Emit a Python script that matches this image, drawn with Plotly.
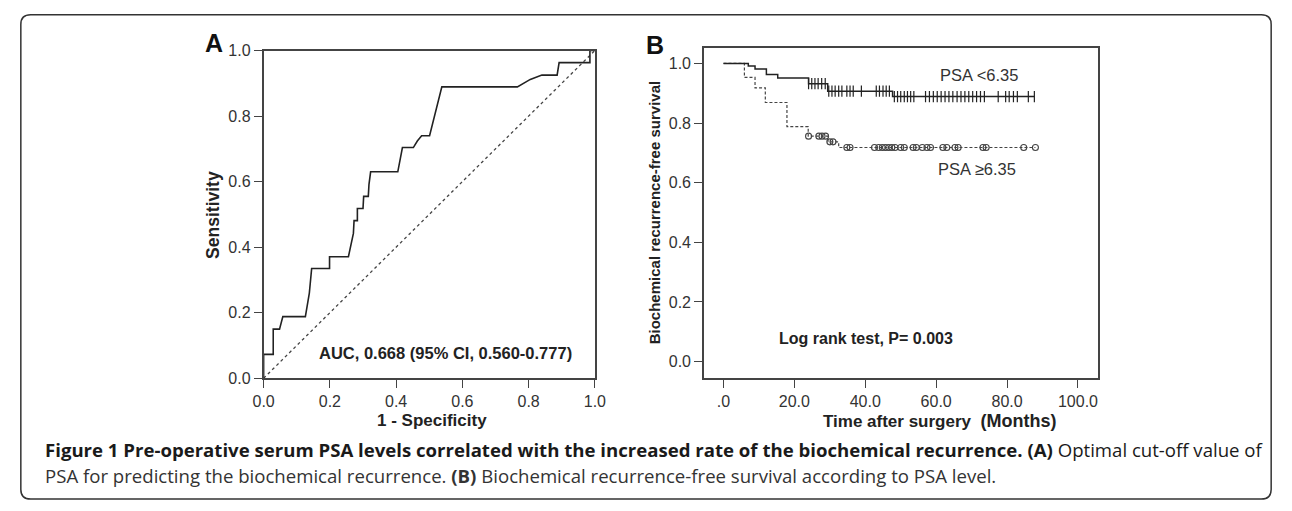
import plotly.graph_objects as go

W, H = 1292, 511

# ---------------- Panel A: ROC curve ----------------
roc_fpr = [0, 0, 0.029, 0.029, 0.048, 0.058, 0.126, 0.138, 0.145, 0.199, 0.199,
           0.256, 0.271, 0.273, 0.283, 0.283, 0.300, 0.302, 0.316, 0.318, 0.323,
           0.405, 0.419, 0.452, 0.464, 0.477, 0.501, 0.538, 0.766, 0.805, 0.840,
           0.886, 0.892, 0.985, 0.985, 1.0]
roc_tpr = [0, 0.073, 0.073, 0.150, 0.150, 0.188, 0.188, 0.260, 0.335, 0.335, 0.371,
           0.371, 0.442, 0.481, 0.481, 0.518, 0.518, 0.555, 0.555, 0.591, 0.630,
           0.630, 0.704, 0.704, 0.724, 0.740, 0.740, 0.889, 0.889, 0.912, 0.925,
           0.925, 0.963, 0.963, 1.0, 1.0]
ref_line = [0, 1]
roc_ticks = [0.0, 0.2, 0.4, 0.6, 0.8, 1.0]
roc_ticklabels = ["0.0", "0.2", "0.4", "0.6", "0.8", "1.0"]

# ---------------- Panel B: Kaplan-Meier ----------------
km_low_t = [0, 7.0, 8.9, 12.1, 15.3, 24.0, 29.4, 47.7, 87.7]
km_low_s = [1.0, 0.991, 0.981, 0.963, 0.951, 0.932, 0.907, 0.889, 0.889]
km_low_cens = [24.0, 24.9, 25.8, 26.7, 27.7, 28.7,
               29.7, 30.6, 31.5, 32.5, 33.4, 34.8, 35.7, 36.6, 38.9, 43.1, 44.0, 45.0, 45.9, 46.8,
               48.2, 49.1, 50.0, 51.0, 51.9, 52.8, 53.7, 57.0, 58.1, 59.2, 60.3, 61.4, 62.5, 63.6,
               64.7, 65.9, 67.0, 68.1, 69.2, 70.3, 71.4, 72.5, 73.6, 77.5, 79.6, 80.6, 81.8, 82.9,
               86.0, 87.7]

km_high_t = [0, 5.9, 8.9, 11.8, 17.9, 23.9, 29.5, 32.5, 88.0]
km_high_s = [1.0, 0.953, 0.918, 0.869, 0.788, 0.756, 0.737, 0.718, 0.718]
km_high_cens = [24.0, 26.9, 27.8, 28.8, 30.0, 30.9, 34.8, 35.7, 42.6, 43.8, 44.8, 45.7, 46.6,
                47.5, 48.4, 50.0, 51.0, 53.5, 54.4, 56.1, 57.4, 58.4, 61.9, 63.0, 65.3, 66.2,
                73.2, 74.1, 84.7, 88.0]

km_xticks = [0, 20, 40, 60, 80, 100]
km_xticklabels = [".0", "20.0", "40.0", "60.0", "80.0", "100.0"]
km_yticks = [0.0, 0.2, 0.4, 0.6, 0.8, 1.0]
km_yticklabels = ["0.0", "0.2", "0.4", "0.6", "0.8", "1.0"]


def surv_at(ts, ss, t):
    val = ss[0]
    for ti, si in zip(ts, ss):
        if ti <= t + 1e-9:
            val = si
    return val


def px(x):
    return x / W


def py(y):
    return 1 - y / H


INK = "#222222"
AX = "#444444"
FONT = "Liberation Sans, Arial, sans-serif"

fig = go.Figure()

# ROC
fig.add_trace(go.Scatter(x=ref_line, y=ref_line, mode="lines",
                         line=dict(color=AX, width=1.3, dash="dot"),
                         xaxis="x", yaxis="y", showlegend=False, hoverinfo="skip"))
fig.add_trace(go.Scatter(x=roc_fpr, y=roc_tpr, mode="lines",
                         line=dict(color=INK, width=1.6),
                         xaxis="x", yaxis="y", showlegend=False))

# KM
fig.add_trace(go.Scatter(x=km_high_t, y=km_high_s, mode="lines", line_shape="hv",
                         line=dict(color=AX, width=1.2, dash="3px,2px"),
                         xaxis="x2", yaxis="y2", showlegend=False))
fig.add_trace(go.Scatter(x=km_low_t, y=km_low_s, mode="lines", line_shape="hv",
                         line=dict(color=INK, width=1.5),
                         xaxis="x2", yaxis="y2", showlegend=False))
fig.add_trace(go.Scatter(x=km_low_cens, y=[surv_at(km_low_t, km_low_s, t) for t in km_low_cens],
                         mode="markers",
                         marker=dict(symbol="line-ns-open", size=8, color=INK,
                                     line=dict(color=INK, width=1.2)),
                         xaxis="x2", yaxis="y2", showlegend=False))
fig.add_trace(go.Scatter(x=km_high_cens, y=[surv_at(km_high_t, km_high_s, t) for t in km_high_cens],
                         mode="markers",
                         marker=dict(symbol="circle-open", size=6, color=AX,
                                     line=dict(color=AX, width=1.1)),
                         xaxis="x2", yaxis="y2", showlegend=False))

tickfont = dict(family=FONT, size=16, color="#333333")
axis_common = dict(showgrid=False, zeroline=False, showline=True, linecolor=AX, linewidth=1.6,
                   ticks="outside", ticklen=8, tickwidth=1.4, tickcolor=AX, tickfont=tickfont,
                   mirror=True, fixedrange=True)

fig.update_layout(
    width=W, height=H, margin=dict(l=0, r=0, t=0, b=0),
    paper_bgcolor="white", plot_bgcolor="white",
    xaxis=dict(domain=[px(257), px(594)], range=[0, 1], tickvals=roc_ticks,
               ticktext=roc_ticklabels, anchor="y", **axis_common),
    yaxis=dict(domain=[py(383), py(44)], range=[0, 1], tickvals=roc_ticks,
               ticktext=roc_ticklabels, anchor="x", **axis_common),
    xaxis2=dict(domain=[px(705), px(1106)], range=[-5.5, 105.7], tickvals=km_xticks,
                ticktext=km_xticklabels, anchor="y2", **axis_common),
    yaxis2=dict(domain=[py(382.5), py(41)], range=[-0.0545, 1.053], tickvals=km_yticks,
                ticktext=km_yticklabels, anchor="x2", **axis_common),
)

ann = []


def add_text(x, y, text, size, bold=False, color=INK, angle=0, xanchor="center", family=FONT):
    ann.append(dict(x=px(x), y=py(y), xref="paper", yref="paper", text=(f"<b>{text}</b>" if bold else text),
                    showarrow=False, xanchor=xanchor, yanchor="middle", textangle=angle,
                    font=dict(family=family, size=size, color=color)))


add_text(207, 36, "A", 25, bold=True, color="#111111")
add_text(655, 38, "B", 25, bold=True, color="#111111")
add_text(206, 213.5, "Sensitivity", 17.5, bold=True, angle=-90)
add_text(428, 427, "1 - Specificity", 17, bold=True)
add_text(441.7, 356.7, "AUC, 0.668 (95% CI, 0.560-0.777)", 16.5, bold=True)
add_text(655, 211.5, "Biochemical recurrence-free survival", 15, bold=True, angle=-90)
add_text(824, 427, "<b>Time after surgery</b>  <b><span style='font-size:18px'>(Months)</span></b>", 17,
         xanchor="left")
add_text(869.7, 341.7, "Log rank test, P= 0.003", 16, bold=True)
add_text(985, 69, "PSA &lt;6.35", 16.5, color="#333333")
add_text(982.5, 167, "PSA \u22656.35", 16.5, color="#333333")

cap_font = "Open Sans, Noto Sans, sans-serif"
add_text(33, 457,
         "<b>Figure 1 Pre-operative serum PSA levels correlated with the increased rate of the biochemical recurrence. (A)</b> Optimal cut-off value of",
         18.6, color="#1a1a1a", xanchor="left", family=cap_font)
add_text(33, 484,
         "PSA for predicting the biochemical recurrence. <b>(B)</b> Biochemical recurrence-free survival according to PSA level.",
         18.6, color="#333333", xanchor="left", family=cap_font)

fig.update_layout(annotations=ann)

# Outer rounded frame
x0, x1, y0, y1, r = 10, 1282, 7, 508, 10
path = (f"M {px(x0 + r)},{py(y0)} L {px(x1 - r)},{py(y0)} Q {px(x1)},{py(y0)} {px(x1)},{py(y0 + r)} "
        f"L {px(x1)},{py(y1 - r)} Q {px(x1)},{py(y1)} {px(x1 - r)},{py(y1)} "
        f"L {px(x0 + r)},{py(y1)} Q {px(x0)},{py(y1)} {px(x0)},{py(y1 - r)} "
        f"L {px(x0)},{py(y0 + r)} Q {px(x0)},{py(y0)} {px(x0 + r)},{py(y0)} Z")
fig.add_shape(type="path", path=path, xref="paper", yref="paper",
              line=dict(color="#333333", width=1.5), fillcolor="rgba(0,0,0,0)")

fig.write_html("out.html", config={"displayModeBar": False},
               post_script="document.body.style.margin='0';document.body.style.overflow='hidden';")
